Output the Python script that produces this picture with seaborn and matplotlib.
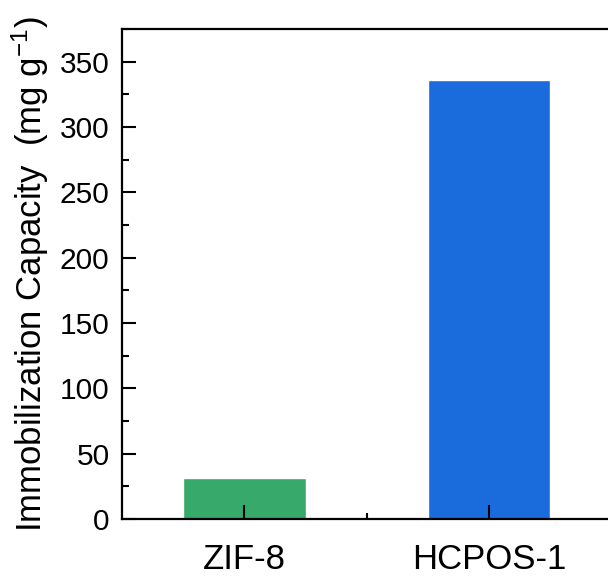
import matplotlib
matplotlib.use("Agg")
import matplotlib.pyplot as plt
import seaborn as sns
import pandas as pd
from matplotlib.ticker import MultipleLocator, FixedLocator

categories = ["ZIF-8", "HCPOS-1"]
values = [31, 336]
colors = ["#37a96a", "#1a6cdc"]

sns.set_style("ticks")
plt.rcParams['font.family'] = ['Liberation Sans', 'DejaVu Sans']
plt.rcParams['mathtext.fontset'] = 'custom'
plt.rcParams['mathtext.rm'] = 'Liberation Sans'
plt.rcParams['mathtext.it'] = 'Liberation Sans'
plt.rcParams['text.color'] = 'black'
plt.rcParams['axes.labelcolor'] = 'black'
plt.rcParams['xtick.color'] = 'black'
plt.rcParams['ytick.color'] = 'black'
plt.rcParams['axes.edgecolor'] = 'black'

df = pd.DataFrame({"cat": categories, "val": values})

fig = plt.figure(figsize=(6.08, 5.77), dpi=100)
ax = fig.add_axes([122/608, 1 - 519/577, (611.5 - 122)/608, (519 - 29)/577])
sns.barplot(data=df, x="cat", y="val", hue="cat", palette=colors, width=0.5,
            legend=False, ax=ax, saturation=1)
ax.set_axisbelow(False)

ax.set_xlim(-0.5, 1.5)
ax.set_ylim(0, 375)
ax.yaxis.set_major_locator(MultipleLocator(50))
ax.yaxis.set_minor_locator(MultipleLocator(25))
ax.xaxis.set_minor_locator(FixedLocator([0.5]))
ax.set_xlabel("")
ax.set_ylabel("Immobilization Capacity  (mg g$^{-1}$)", fontsize=25, labelpad=6)
for s in ax.spines.values():
    s.set_linewidth(1.6)
    s.set_visible(True)
    s.set_color('black')
ax.tick_params(axis='both', which='major', direction='in', length=10, width=1.5)
ax.tick_params(axis='both', which='minor', direction='in', length=5, width=1.5)
ax.tick_params(axis='y', which='major', labelsize=21.5, pad=9)
ax.tick_params(axis='x', which='major', labelsize=25, pad=17)
ax.tick_params(axis='x', which='minor', length=4)

fig.savefig("out.png", dpi=100)
